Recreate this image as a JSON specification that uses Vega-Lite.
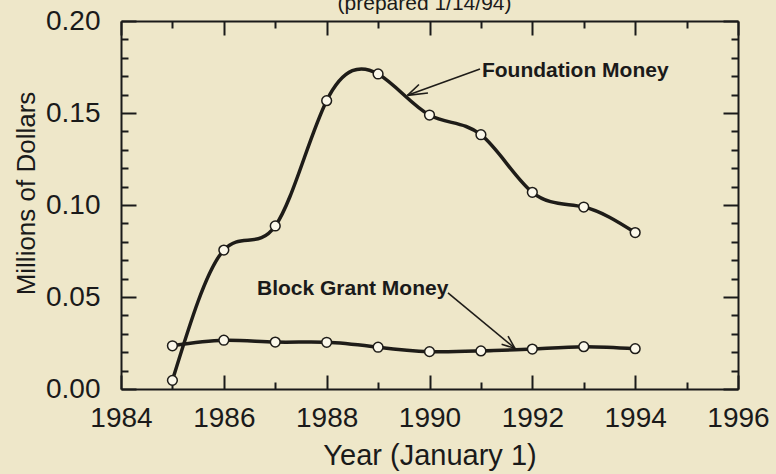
{
  "$schema": "https://vega.github.io/schema/vega-lite/v6.json",
  "width": 617,
  "height": 368,
  "autosize": "none",
  "padding": {"left": 121, "top": 21, "right": 38, "bottom": 85},
  "background": "#eee7c9",
  "config": {"view": {"stroke": null}, "font": "Liberation Sans"},
  "title": {"text": "(prepared 1/14/94)", "fontSize": 21, "font": "Liberation Sans", "fontWeight": "normal", "color": "#1a1a1a", "anchor": "middle", "offset": 11, "baseline": "alphabetic", "dx": -5, "dy": 35},
  "datasets": {
    "series": [
      {"year": 1985, "value": 0.0047, "series": "Foundation Money"},
      {"year": 1986, "value": 0.0755, "series": "Foundation Money"},
      {"year": 1987, "value": 0.0886, "series": "Foundation Money"},
      {"year": 1988, "value": 0.1567, "series": "Foundation Money"},
      {"year": 1989, "value": 0.1712, "series": "Foundation Money"},
      {"year": 1990, "value": 0.1489, "series": "Foundation Money"},
      {"year": 1991, "value": 0.1382, "series": "Foundation Money"},
      {"year": 1992, "value": 0.1069, "series": "Foundation Money"},
      {"year": 1993, "value": 0.0989, "series": "Foundation Money"},
      {"year": 1994, "value": 0.0850, "series": "Foundation Money"},
      {"year": 1985, "value": 0.0235, "series": "Block Grant Money"},
      {"year": 1986, "value": 0.0265, "series": "Block Grant Money"},
      {"year": 1987, "value": 0.0255, "series": "Block Grant Money"},
      {"year": 1988, "value": 0.0254, "series": "Block Grant Money"},
      {"year": 1989, "value": 0.0227, "series": "Block Grant Money"},
      {"year": 1990, "value": 0.0203, "series": "Block Grant Money"},
      {"year": 1991, "value": 0.0207, "series": "Block Grant Money"},
      {"year": 1992, "value": 0.0217, "series": "Block Grant Money"},
      {"year": 1993, "value": 0.0230, "series": "Block Grant Money"},
      {"year": 1994, "value": 0.0219, "series": "Block Grant Money"}
    ],
    "arrows": [
      {"x": 1990.982, "y": 0.1739, "x2": 1989.572, "y2": 0.1596},
      {"x": 1989.795, "y": 0.1655, "x2": 1989.572, "y2": 0.1596},
      {"x": 1989.970, "y": 0.1609, "x2": 1989.572, "y2": 0.1596},
      {"x": 1990.359, "y": 0.0522, "x2": 1991.662, "y2": 0.0221},
      {"x": 1991.528, "y": 0.02875, "x2": 1991.662, "y2": 0.0221},
      {"x": 1991.402, "y": 0.0243, "x2": 1991.662, "y2": 0.0221}
    ],
    "labels": [
      {"x": 1991.02, "y": 0.1728, "text": "Foundation Money"},
      {"x": 1986.645, "y": 0.0543, "text": "Block Grant Money"}
    ]
  },
  "layer": [
    {
      "data": {"name": "series"},
      "mark": {"type": "line", "interpolate": "natural", "color": "#1e1c18", "strokeWidth": 3.5},
      "encoding": {
        "x": {"field": "year", "type": "quantitative",
          "scale": {"domain": [1984, 1996], "nice": false, "zero": false},
          "axis": {"orient": "bottom", "values": [1984,1985,1986,1987,1988,1989,1990,1991,1992,1993,1994,1995,1996],
            "format": "d", "labelExpr": "datum.value % 2 == 0 ? datum.label : ''",
            "tickSize": {"condition": {"test": "datum.value % 2 == 0", "value": -14}, "value": -7},
            "tickWidth": 2, "tickColor": "#1a1a1a", "domainColor": "#1a1a1a", "domainWidth": 2,
            "labelFontSize": 28, "labelFont": "Liberation Sans", "labelColor": "#1a1a1a", "labelPadding": 29,
            "labelFlush": false, "labelOverlap": false, "grid": false,
            "title": "Year (January 1)", "titleFontSize": 29, "titleFont": "Liberation Sans", "titleFontWeight": "normal", "titleColor": "#1a1a1a", "titlePadding": 2}
        },
        "y": {"field": "value", "type": "quantitative",
          "scale": {"domain": [0, 0.2], "nice": false},
          "axis": {"orient": "left", "values": [0,0.01,0.02,0.03,0.04,0.05,0.06,0.07,0.08,0.09,0.1,0.11,0.12,0.13,0.14,0.15,0.16,0.17,0.18,0.19,0.2],
            "format": ".2f", "labelExpr": "round(datum.value*100) % 5 == 0 ? datum.label : ''",
            "tickSize": {"condition": {"test": "round(datum.value*100) % 5 == 0", "value": -15}, "value": -7},
            "tickWidth": 2, "tickColor": "#1a1a1a", "domainColor": "#1a1a1a", "domainWidth": 2,
            "labelFontSize": 28, "labelFont": "Liberation Sans", "labelColor": "#1a1a1a", "labelPadding": 36,
            "labelFlush": false, "labelOverlap": false, "grid": false,
            "title": "Millions of Dollars", "titleFontSize": 26, "titleFont": "Liberation Sans", "titleFontWeight": "normal", "titleColor": "#1a1a1a", "titlePadding": 6, "titleY": 172}
        },
        "detail": {"field": "series", "type": "nominal"}
      }
    },
    {
      "data": {"name": "series"},
      "mark": {"type": "point", "shape": "circle", "filled": true, "fill": "#fbf8ea", "stroke": "#1e1c18", "strokeWidth": 1.5, "size": 95, "opacity": 1},
      "encoding": {
        "x": {"field": "year", "type": "quantitative",
          "axis": {"orient": "top", "values": [1984,1985,1986,1987,1988,1989,1990,1991,1992,1993,1994,1995,1996],
            "labels": false, "title": null, "grid": false,
            "tickSize": {"condition": {"test": "datum.value % 2 == 0", "value": -14}, "value": -7},
            "tickWidth": 2, "tickColor": "#1a1a1a", "domainColor": "#1a1a1a", "domainWidth": 2}
        },
        "y": {"field": "value", "type": "quantitative",
          "axis": {"orient": "right", "values": [0,0.01,0.02,0.03,0.04,0.05,0.06,0.07,0.08,0.09,0.1,0.11,0.12,0.13,0.14,0.15,0.16,0.17,0.18,0.19,0.2],
            "labels": false, "title": null, "grid": false,
            "tickSize": {"condition": {"test": "round(datum.value*100) % 5 == 0", "value": -15}, "value": -7},
            "tickWidth": 2, "tickColor": "#1a1a1a", "domainColor": "#1a1a1a", "domainWidth": 2}
        }
      }
    },
    {
      "data": {"name": "arrows"},
      "mark": {"type": "rule", "color": "#1e1c18", "strokeWidth": 1.6},
      "encoding": {
        "x": {"field": "x", "type": "quantitative", "axis": null},
        "y": {"field": "y", "type": "quantitative", "axis": null},
        "x2": {"field": "x2"},
        "y2": {"field": "y2"}
      }
    },
    {
      "data": {"name": "labels"},
      "mark": {"type": "text", "align": "left", "baseline": "middle", "font": "Liberation Sans", "fontWeight": "bold", "fontSize": 21, "color": "#1a1a1a"},
      "encoding": {
        "x": {"field": "x", "type": "quantitative", "axis": null},
        "y": {"field": "y", "type": "quantitative", "axis": null},
        "text": {"field": "text"}
      }
    }
  ],
  "resolve": {"axis": {"x": "independent", "y": "independent"}}
}
